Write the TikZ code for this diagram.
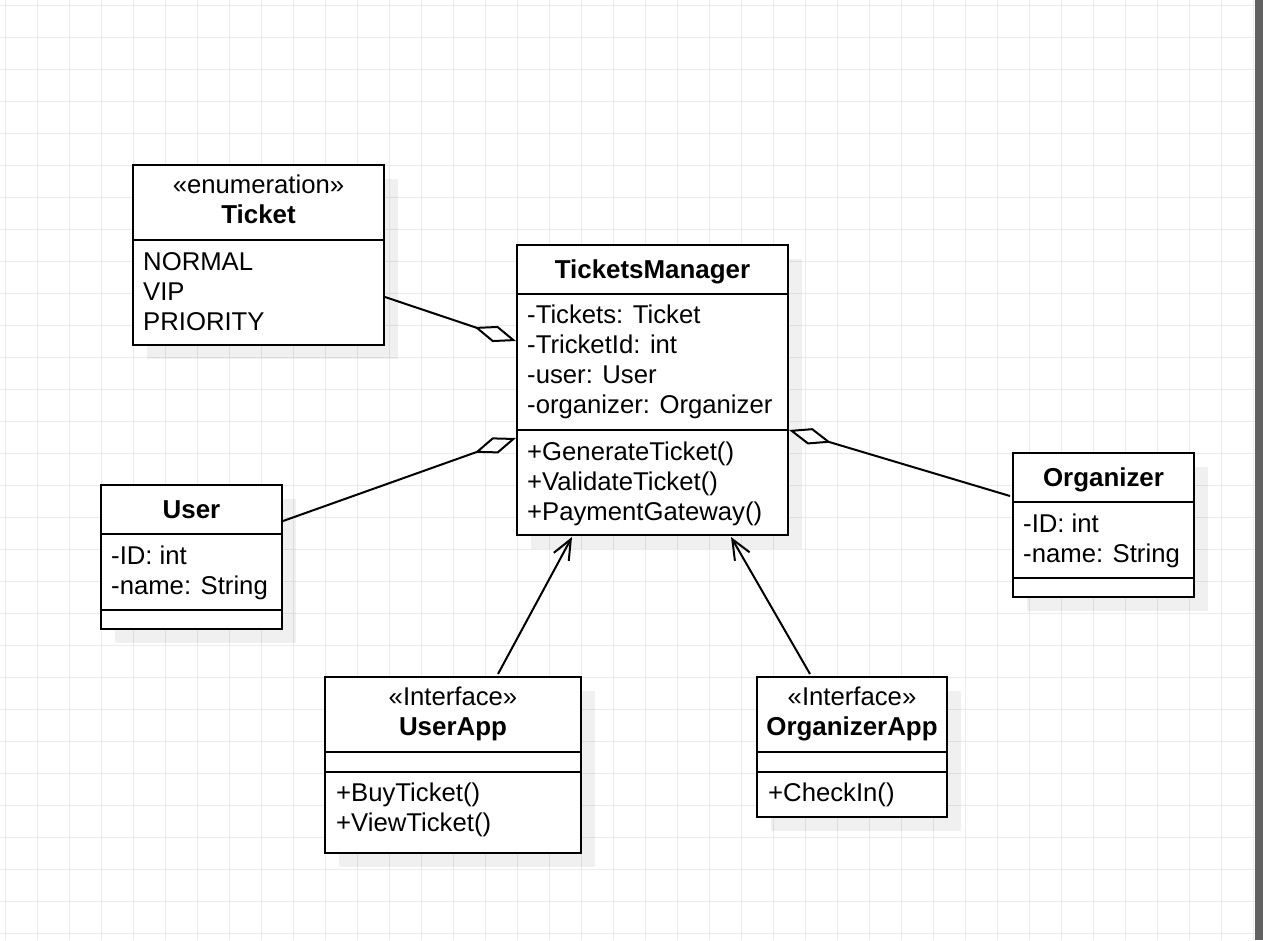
\documentclass[tikz,border=0pt]{standalone}
\usepackage{fontspec}
\setmainfont{Liberation Sans}
\usetikzlibrary{arrows.meta,calc,shadows}
\begin{document}
\begin{tikzpicture}[x=1pt,y=-1pt,
  gridline/.style={draw=black!8,line width=1pt},
  box/.style={draw=black,fill=white,line width=2pt,inner sep=0pt,
    drop shadow={shadow xshift=14pt,shadow yshift=-14pt,fill=black,opacity=0.06}},
  divider/.style={draw=black,line width=2pt},
  txt/.style={anchor=base west,inner sep=0pt,font=\fontsize{25.7}{30}\selectfont},
  ctxt/.style={anchor=base,inner sep=0pt,font=\fontsize{25.7}{30}\selectfont},
  btxt/.style={anchor=base,inner sep=0pt,font=\fontsize{25.9}{30}\selectfont\bfseries},
  agg/.style={line width=2pt,{Diamond[fill=white,length=44pt,width=17pt]}-},
  dep/.style={line width=2pt,-{Straight Barb[length=20pt,width=17pt]}}
]
\useasboundingbox (0,0) rectangle (1263,940);
\fill[white] (0,0) rectangle (1263,940);
\foreach \i in {0,...,39} {\draw[gridline] (5.3+32*\i,0) -- (5.3+32*\i,940);}
\foreach \j in {0,...,29} {\draw[gridline] (0,5.3+32*\j) -- (1255,5.3+32*\j);}
\fill[black!62] (1255,0) rectangle (1263,940);

% boxes
\node[box,minimum width=251pt,minimum height=180pt] (ticket) at (258.5,255) {};
\node[box,minimum width=271pt,minimum height=290pt] (tm) at (652.5,390) {};
\node[box,minimum width=181pt,minimum height=144pt] (user) at (191.5,557) {};
\node[box,minimum width=181pt,minimum height=144pt] (org) at (1103.5,525) {};
\node[box,minimum width=256pt,minimum height=176pt] (uapp) at (453,765) {};
\node[box,minimum width=190pt,minimum height=140pt] (oapp) at (852,747) {};

% dividers
\draw[divider] ($(ticket.north west)+(0,76)$) -- ($(ticket.north east)+(0,76)$);
\draw[divider] ($(tm.north west)+(0,50)$) -- ($(tm.north east)+(0,50)$);
\draw[divider] ($(tm.north west)+(0,186)$) -- ($(tm.north east)+(0,186)$);
\draw[divider] ($(user.north west)+(0,50)$) -- ($(user.north east)+(0,50)$);
\draw[divider] ($(user.north west)+(0,126)$) -- ($(user.north east)+(0,126)$);
\draw[divider] ($(org.north west)+(0,50)$) -- ($(org.north east)+(0,50)$);
\draw[divider] ($(org.north west)+(0,126)$) -- ($(org.north east)+(0,126)$);
\draw[divider] ($(uapp.north west)+(0,76)$) -- ($(uapp.north east)+(0,76)$);
\draw[divider] ($(uapp.north west)+(0,96)$) -- ($(uapp.north east)+(0,96)$);
\draw[divider] ($(oapp.north west)+(0,76)$) -- ($(oapp.north east)+(0,76)$);
\draw[divider] ($(oapp.north west)+(0,96)$) -- ($(oapp.north east)+(0,96)$);

% Ticket texts
\node[ctxt] (ticketst) at (258.5,193) {«enumeration»};
\node[btxt] (tickett) at (258.5,223) {Ticket};
\node[txt] (tk1) at (143,270) {NORMAL};
\node[txt] (tk2) at (143,300) {VIP};
\node[txt] (tk3) at (143,330) {PRIORITY};

% TicketsManager texts
\node[btxt] (tmt) at (652.5,278) {TicketsManager};
\node[txt] (tm1) at (527,323.5) {-Tickets: Ticket};
\node[txt] (tm2) at (527,353.5) {-TricketId: int};
\node[txt] (tm3) at (527,383.5) {-user: User};
\node[txt] (tm4) at (527,413.5) {-organizer: Organizer};
\node[txt] (tm5) at (527,460) {+GenerateTicket()};
\node[txt] (tm6) at (527,490) {+ValidateTicket()};
\node[txt] (tm7) at (527,520) {+PaymentGateway()};

% User texts
\node[btxt] (usert) at (191.5,518) {User};
\node[txt] (us1) at (111,564) {-ID: int};
\node[txt] (us2) at (111,594) {-name: String};

% Organizer texts
\node[btxt] (orgt) at (1103.5,486) {Organizer};
\node[txt] (or1) at (1023,532) {-ID: int};
\node[txt] (or2) at (1023,562) {-name: String};

% UserApp texts
\node[ctxt] (uappst) at (453,705) {«Interface»};
\node[btxt] (uappt) at (453,735) {UserApp};
\node[txt] (ua1) at (336,801) {+BuyTicket()};
\node[txt] (ua2) at (336,831) {+ViewTicket()};

% OrganizerApp texts
\node[ctxt] (oappst) at (852,705) {«Interface»};
\node[btxt] (oappt) at (852,735) {OrganizerApp};
\node[txt] (oa1) at (768,801) {+CheckIn()};

% connectors
\draw[agg] ($(tm.north west)+(0,97)$) -- ($(ticket.north east)+(0,133)$);
\draw[agg] ($(tm.north west)+(0,194)$) -- ($(user.north east)+(0,37)$);
\draw[agg] ($(tm.north east)+(0,186)$) -- ($(org.north west)+(-2,44)$);
\draw[dep] ($(uapp.north west)+(174,-2)$) -- ($(tm.south west)+(56,1)$);
\draw[dep] ($(oapp.north west)+(54,-2)$) -- ($(tm.south west)+(215,1)$);
\end{tikzpicture}
\end{document}
